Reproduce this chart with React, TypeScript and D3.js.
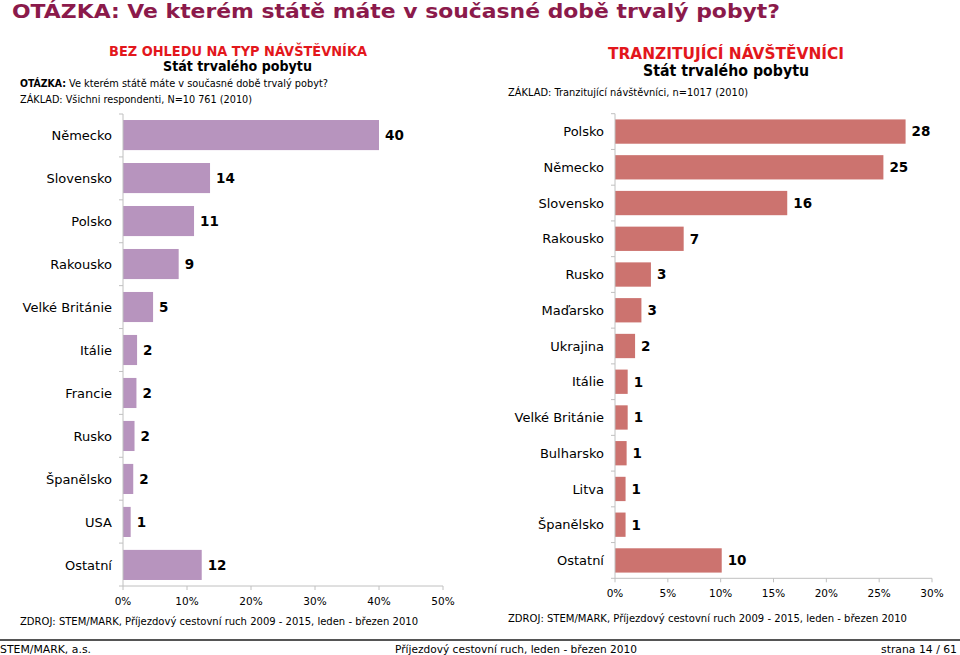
import { useEffect, useRef } from "react";
import * as d3 from "d3";

// left panel: all visitors
const allCountries = [
  "Německo", "Slovensko", "Polsko", "Rakousko", "Velké Británie",
  "Itálie", "Francie", "Rusko", "Španělsko", "USA", "Ostatní",
];
const allValues = [40, 13.6, 11.1, 8.7, 4.7, 2.2, 2.1, 1.8, 1.6, 1.2, 12.3];
const allTicks = [0, 10, 20, 30, 40, 50];

// right panel: transit visitors
const transitCountries = [
  "Polsko", "Německo", "Slovensko", "Rakousko", "Rusko", "Maďarsko",
  "Ukrajina", "Itálie", "Velké Británie", "Bulharsko", "Litva", "Španělsko", "Ostatní",
];
const transitValues = [27.5, 25.4, 16.3, 6.5, 3.4, 2.5, 1.9, 1.2, 1.2, 1.1, 1.0, 1.0, 10.1];
const transitTicks = [0, 5, 10, 15, 20, 25, 30];

const FONT = "'DejaVu Sans', Verdana, sans-serif";
const AXIS = "#c0c0c0";

interface PanelOpts {
  cats: string[];
  vals: number[];
  ticks: number[];
  x0: number;
  x1: number;
  y0: number;
  y1: number;
  padIn: number;
  padOut: number;
  color: string;
  tickY: number;
}

function drawPanel(svg: d3.Selection<SVGSVGElement, unknown, null, undefined>, o: PanelOpts) {
  const x = d3.scaleLinear().domain([0, o.ticks[o.ticks.length - 1]]).range([o.x0, o.x1]);
  const y = d3
    .scaleBand<string>()
    .domain(o.cats)
    .range([o.y0, o.y1])
    .paddingInner(o.padIn)
    .paddingOuter(o.padOut);

  const g = svg.append("g");

  // bars
  g.selectAll(".bar")
    .data(o.cats)
    .enter()
    .append("rect")
    .attr("x", x(0))
    .attr("y", d => y(d) as number)
    .attr("width", (_, i) => x(o.vals[i]) - x(0))
    .attr("height", y.bandwidth())
    .attr("fill", o.color);

  // value labels
  g.selectAll(".val")
    .data(o.cats)
    .enter()
    .append("text")
    .attr("x", (_, i) => x(o.vals[i]) + 6)
    .attr("y", d => (y(d) as number) + y.bandwidth() / 2)
    .attr("dy", "0.36em")
    .attr("font-family", FONT)
    .attr("font-size", 13.5)
    .attr("font-weight", "bold")
    .attr("fill", "#000")
    .text((_, i) => String(Math.round(o.vals[i])));

  // category labels
  g.selectAll(".cat")
    .data(o.cats)
    .enter()
    .append("text")
    .attr("x", o.x0 - 11)
    .attr("y", d => (y(d) as number) + y.bandwidth() / 2)
    .attr("dy", "0.36em")
    .attr("text-anchor", "end")
    .attr("font-family", FONT)
    .attr("font-size", 13)
    .attr("fill", "#000")
    .text(d => d);

  // category axis with ticks on band boundaries
  g.append("line")
    .attr("x1", o.x0).attr("x2", o.x0)
    .attr("y1", o.y0).attr("y2", o.y1)
    .attr("stroke", AXIS);
  const n = o.cats.length;
  g.selectAll(".ctick")
    .data(d3.range(n + 1))
    .enter()
    .append("line")
    .attr("x1", o.x0 - 4).attr("x2", o.x0)
    .attr("y1", i => o.y0 + (i * (o.y1 - o.y0)) / n)
    .attr("y2", i => o.y0 + (i * (o.y1 - o.y0)) / n)
    .attr("stroke", AXIS);

  // value axis
  g.append("line")
    .attr("x1", o.x0).attr("x2", o.x1)
    .attr("y1", o.y1).attr("y2", o.y1)
    .attr("stroke", AXIS);
  g.selectAll(".xtick")
    .data(o.ticks)
    .enter()
    .append("line")
    .attr("x1", d => x(d)).attr("x2", d => x(d))
    .attr("y1", o.y1).attr("y2", o.y1 + 4)
    .attr("stroke", AXIS);
  g.selectAll(".xlab")
    .data(o.ticks)
    .enter()
    .append("text")
    .attr("x", d => x(d))
    .attr("y", o.tickY)
    .attr("text-anchor", "middle")
    .attr("font-family", FONT)
    .attr("font-size", 10.5)
    .attr("fill", "#000")
    .text(d => `${d}%`);
}

function txt(
  svg: d3.Selection<SVGSVGElement, unknown, null, undefined>,
  s: string, xp: number, yp: number, size: number,
  opts: { bold?: boolean; fill?: string; anchor?: string; len?: number } = {}
) {
  const t = svg
    .append("text")
    .attr("x", xp)
    .attr("y", yp)
    .attr("font-family", FONT)
    .attr("font-size", size)
    .attr("font-weight", opts.bold ? "bold" : "normal")
    .attr("fill", opts.fill || "#000")
    .attr("text-anchor", opts.anchor || "start")
    .text(s);
  if (opts.len) t.attr("textLength", opts.len).attr("lengthAdjust", "spacingAndGlyphs");
  return t;
}

export default function App() {
  const svgRef = useRef<SVGSVGElement>(null);

  useEffect(() => {
    if (!svgRef.current) return;
    const svg = d3.select(svgRef.current);
    svg.selectAll("*").remove();

    // page title
    txt(svg, "OTÁZKA: Ve kterém státě máte v současné době trvalý pobyt?", 12, 18, 19,
      { bold: true, fill: "#8b1a4b", len: 768 });

    // left header
    txt(svg, "BEZ OHLEDU NA TYP NÁVŠTĚVNÍKA", 109, 56, 14, { bold: true, fill: "#e3171c", len: 258 });
    txt(svg, "Stát trvalého pobytu", 163, 71, 14, { bold: true, len: 149 });
    txt(svg, "OTÁZKA:", 20, 87, 11, { bold: true, len: 46 });
    txt(svg, "Ve kterém státě máte v současné době trvalý pobyt?", 69, 87, 11, { len: 259 });
    txt(svg, "ZÁKLAD: Všichni respondenti, N=10 761 (2010)", 20, 103, 11, { len: 232 });

    // right header
    txt(svg, "TRANZITUJÍCÍ NÁVŠTĚVNÍCI", 608, 59, 15, { bold: true, fill: "#e3171c", len: 236 });
    txt(svg, "Stát trvalého pobytu", 643, 76, 15, { bold: true, len: 166 });
    txt(svg, "ZÁKLAD: Tranzitující návštěvníci, n=1017 (2010)", 508, 96, 11, { len: 240 });

    drawPanel(svg, {
      cats: allCountries, vals: allValues, ticks: allTicks,
      x0: 123, x1: 443, y0: 114, y1: 586, padIn: 0.3, padOut: 0.14,
      color: "#b794be", tickY: 605,
    });
    drawPanel(svg, {
      cats: transitCountries, vals: transitValues, ticks: transitTicks,
      x0: 615, x1: 932, y0: 113.7, y1: 578.3, padIn: 0.32, padOut: 0.16,
      color: "#cc736f", tickY: 597,
    });

    // sources
    txt(svg, "ZDROJ: STEM/MARK, Příjezdový cestovní ruch 2009 - 2015,  leden - březen 2010", 20, 625, 11, { len: 398 });
    txt(svg, "ZDROJ: STEM/MARK, Příjezdový cestovní ruch 2009 - 2015,  leden - březen 2010", 508, 622, 11, { len: 399 });

    // footer
    svg.append("line")
      .attr("x1", 0).attr("x2", 960)
      .attr("y1", 640).attr("y2", 640)
      .attr("stroke", "#555").attr("stroke-width", 2);
    txt(svg, "STEM/MARK, a.s.", 0, 653, 11, { len: 91 });
    txt(svg, "Příjezdový cestovní ruch, leden - březen 2010", 395, 653, 11, { len: 242 });
    txt(svg, "strana 14 / 61", 957, 653, 11, { anchor: "end", len: 76 });
  }, []);

  return (
    <svg
      ref={svgRef}
      width={960}
      height={655}
      viewBox="0 0 960 655"
      style={{ position: "absolute", left: 0, top: 0, background: "#fff" }}
    />
  );
}
